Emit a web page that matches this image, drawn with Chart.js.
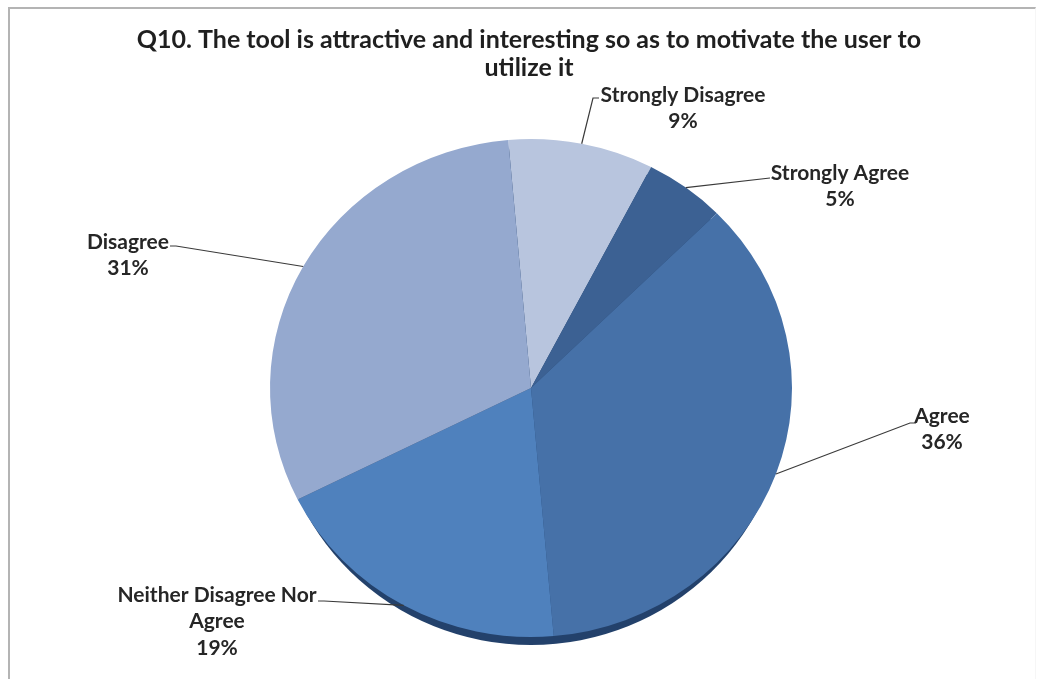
<!DOCTYPE html>
<html>
<head>
<meta charset="utf-8">
<title>Q10</title>
<script src="https://cdn.jsdelivr.net/npm/chart.js@4.4.0/dist/chart.umd.min.js"></script>
<style>
  html, body { margin: 0; padding: 0; background: #fff; overflow: hidden; }
  #wrap { position: relative; width: 1038px; height: 679px; }
  #frame {
    position: absolute; left: 8px; top: 7px; right: 2px; bottom: -5px;
    border-top: 2px solid #b4b4b4; border-left: 2px solid #b4b4b4; border-right: 1px solid #f6f6f6;
    pointer-events: none;
  }
</style>
</head>
<body>
<div id="wrap">
  <canvas id="pie" width="1038" height="679"></canvas>
  <div id="frame"></div>
</div>
<script>
// answers, clockwise from the top
var kategori = ['Strongly Disagree', 'Strongly Agree', 'Agree', 'Neither Disagree Nor Agree', 'Disagree'];
var persen = [9, 5, 36, 19, 31];
var warna = ['#b8c5de', '#3c6193', '#4671a8', '#4f81bd', '#95a9cf'];
var judul = ['Q10. The tool is attractive and interesting so as to motivate the user to', 'utilize it'];

// label text lines + where the leader line starts (tx,ty = text centre, ax,ay = line start)
var labelLayout = [
    { lines: ['Strongly Disagree', '9%'], tx: 683, ty: 95, ax: 593, ay: 98, ex: 599 },
    { lines: ['Strongly Agree', '5%'], tx: 840, ty: 173, ax: 770, ay: 178, ex: 770 },
    { lines: ['Agree', '36%'], tx: 942, ty: 416, ax: 910, ay: 423, ex: 916 },
    { lines: ['Neither Disagree Nor', 'Agree', '19%'], tx: 217, ty: 595, ax: 324, ay: 601, ex: 318 },
    { lines: ['Disagree', '31%'], tx: 128, ty: 242, ax: 176, ay: 246, ex: 170 }
];

var squash = 0.954;  // pie is drawn slightly flattened, like a tilted 3d pie
var fontFam = 'Lato, "Open Sans", sans-serif';
var labelFont = 'bold 21px ' + fontFam;
var titleFont = 'bold 25px ' + fontFam;

var tiltPlugin = {
    id: 'tilt',
    beforeDatasetsDraw: function(chart) {
        var ctx = chart.ctx;
        var arc = chart.getDatasetMeta(0).data[0];
        var cx = arc.x, cy = arc.y, r = arc.outerRadius;
        // dark rim under the pie
        ctx.save();
        ctx.beginPath();
        ctx.ellipse(cx, cy + 8, r - 6, r * squash, 0, 0, Math.PI * 2);
        ctx.fillStyle = '#23416b';
        ctx.fill();
        ctx.restore();

        ctx.save();
        ctx.translate(0, cy);
        ctx.scale(1, squash);
        ctx.translate(0, -cy);
    },
    afterDatasetsDraw: function(chart) {
        var ctx = chart.ctx;
        ctx.restore();

        var meta = chart.getDatasetMeta(0);
        ctx.save();
        ctx.font = labelFont;
        ctx.fillStyle = '#262626';
        ctx.textAlign = 'center';
        ctx.textBaseline = 'middle';
        meta.data.forEach(function(arc, i) {
            var lay = labelLayout[i];
            var mid = (arc.startAngle + arc.endAngle) / 2;
            var px = arc.x + arc.outerRadius * Math.cos(mid);
            var py = arc.y + arc.outerRadius * Math.sin(mid) * squash;

            ctx.beginPath();
            ctx.moveTo(lay.ex, lay.ay);
            ctx.lineTo(lay.ax, lay.ay);
            ctx.lineTo(px, py);
            ctx.strokeStyle = '#3a3a3a';
            ctx.lineWidth = 1.2;
            ctx.stroke();

            for (var k = 0; k < lay.lines.length; k++) {
                ctx.fillText(lay.lines[k], lay.tx, lay.ty + k * 26.5);
            }
        });

        // chart title
        ctx.font = titleFont;
        ctx.fillStyle = '#1f1f1f';
        ctx.fillText(judul[0], 529, 40);
        ctx.fillText(judul[1], 529, 68);
        ctx.restore();
    }
};

var chart = new Chart(document.getElementById('pie').getContext('2d'), {
    type: 'pie',
    data: {
        labels: kategori,
        datasets: [{
            data: persen,
            backgroundColor: warna,
            borderWidth: 0
        }]
    },
    options: {
        responsive: false,
        animation: false,
        rotation: -5,
        layout: { padding: { top: 127, bottom: 30, left: 270, right: 246 } },
        plugins: {
            legend: { display: false },
            tooltip: { enabled: false },
            title: { display: false }
        }
    },
    plugins: [tiltPlugin]
});
</script>
</body>
</html>
